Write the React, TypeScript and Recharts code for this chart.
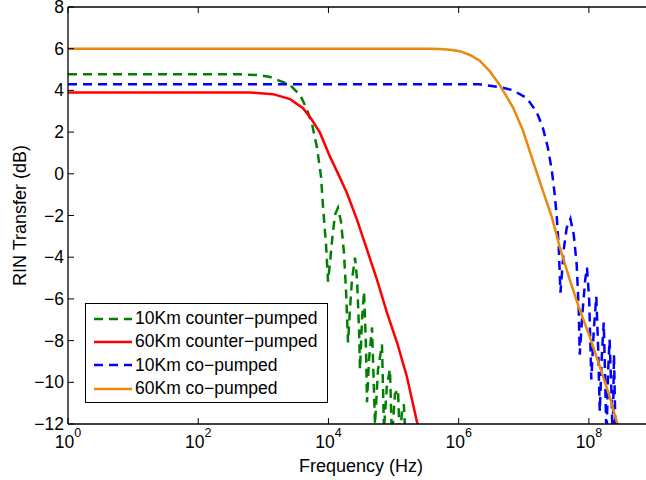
import React from "react";
import {
  LineChart,
  Line,
  XAxis,
  YAxis,
  Legend,
  ReferenceLine,
} from "recharts";

// frequencies in Hz, RIN transfer in dB
const counter10Freq = [
  1, 441, 893, 1270, 2010, 2580, 3080, 3670, 4070, 4690, 5600, 6680, 7700,
  8260, 9180, 9860, 10600, 11400, 12600, 14000, 15600, 17300, 18600, 20000,
  21400, 23000, 25600, 27500, 29500, 30500, 32800, 35200, 37800, 39100, 42000,
  46700, 51900, 57700, 66400, 71300, 79200, 88100, 94400, 105000, 117000,
  125000, 135000, 144000, 155000,
];
const counter10Rin = [
  4.77, 4.77, 4.73, 4.64, 4.4, 4.25, 4.01, 3.78, 3.49, 3.06, 2.39, 1.24, -0.15,
  -1.58, -3.4, -5.17, -4.22, -3.16, -1.97, -1.63, -2.3, -3.78, -5.56, -8.09,
  -6.51, -5.08, -4.02, -5.08, -7.47, -9.38, -6.99, -5.65, -8.43, -10.96, -8.9,
  -7.37, -12.01, -9.38, -8.19, -12.25, -10.11, -9.38, -12.73, -10.58, -10.34,
  -12.97, -11.3, -11.06, -13.2,
];

const counter60Freq = [
  1, 630, 1410, 2580, 4070, 5600, 7430, 10600, 14000, 19300, 27500, 39100,
  55600, 79200, 113000, 160000, 228000, 303000,
];
const counter60Rin = [
  3.9, 3.9, 3.82, 3.58, 3.15, 2.58, 1.96, 0.81, 0.02, -0.93, -2.21, -3.64,
  -5.08, -6.66, -8.09, -9.72, -11.87, -12.97,
];

const co10Freq = [
  1, 2.11e6, 4.29e6, 6.78e6, 1.11e7, 1.58e7, 1.95e7, 2.33e7, 2.69e7, 2.99e7,
  3.21e7, 3.44e7, 3.66e7, 4.11e7, 4.56e7, 5.2e7, 5.85e7, 6.5e7, 6.98e7,
  7.23e7, 8.04e7, 8.78e7, 9.35e7, 1.01e8, 1.09e8, 1.19e8, 1.3e8, 1.39e8,
  1.47e8, 1.57e8, 1.69e8, 1.78e8, 1.86e8, 1.98e8, 2.08e8, 2.24e8, 2.32e8,
  2.43e8, 2.58e8,
];
const co10Rin = [
  4.29, 4.29, 4.16, 4.01, 3.63, 2.96, 2.24, 1.29, 0.19, -1.01, -2.06, -3.5,
  -5.7, -3.64, -2.59, -2.16, -2.92, -4.36, -6.51, -8.67, -6.51, -5.08, -4.5,
  -6.03, -9.86, -7.47, -5.89, -8.43, -11.39, -8.9, -7.13, -9.86, -12.73, -9.38,
  -7.95, -10.82, -12.97, -8.67, -12.97,
];

const co60Freq = [
  1, 3.5e5, 5.2e5, 7.33e5, 1.04e6, 1.49e6, 2.11e6, 3.01e6, 4.29e6, 6.78e6,
  9.66e6, 1.37e7, 1.95e7, 2.69e7, 3.56e7, 5.08e7, 7.23e7, 1.03e8, 1.47e8,
  2.08e8, 2.67e8, 3.54e8,
];
const co60Rin = [
  6.0, 6.0, 5.98, 5.95, 5.88, 5.7, 5.42, 4.92, 4.25, 3.2, 2.1, 0.66, -0.78,
  -2.07, -3.5, -5.08, -6.52, -7.81, -9.25, -10.68, -11.88, -12.7,
];

const xTicks = [1, 1e2, 1e4, 1e6, 1e8];
const yTicks = [-12, -10, -8, -6, -4, -2, 0, 2, 4, 6, 8];

const toPoints = (f: number[], v: number[]) =>
  f.map((x, i) => ({ f: x, v: v[i] }));

const SERIES = [
  { name: "10Km counter\u2212pumped", color: "#008000", dash: "9 6", data: toPoints(counter10Freq, counter10Rin) },
  { name: "60Km counter\u2212pumped", color: "#ff0000", dash: undefined, data: toPoints(counter60Freq, counter60Rin) },
  { name: "10Km co\u2212pumped", color: "#0000ff", dash: "9 6", data: toPoints(co10Freq, co10Rin) },
  { name: "60Km co\u2212pumped", color: "#e8890c", dash: undefined, data: toPoints(co60Freq, co60Rin) },
];

const FONT = '"Liberation Sans", Arial, Helvetica, sans-serif';
const W = 720;
const H = 480;
const PLOT_LEFT = 68;
const PLOT_TOP = 7;
const PLOT_BOTTOM = 424;
const PLOT_RIGHT = 654;

function XTick(props: any) {
  const { x, payload } = props;
  const exp = Math.round(Math.log10(payload.value));
  return (
    <g>
      <line x1={x} x2={x} y1={PLOT_BOTTOM} y2={PLOT_BOTTOM - 6} stroke="#000" />
      <line x1={x} x2={x} y1={PLOT_TOP} y2={PLOT_TOP + 6} stroke="#000" />
      <text x={x} y={448} textAnchor="middle" fontSize={17.5} fontFamily={FONT} fill="#000">
        10
        <tspan dy={-11} fontSize={12.5}>
          {exp}
        </tspan>
      </text>
    </g>
  );
}

function YTick(props: any) {
  const { y, payload } = props;
  const v = payload.value as number;
  const label = v < 0 ? `\u2212${Math.abs(v)}` : `${v}`;
  return (
    <g>
      <line x1={PLOT_LEFT} x2={PLOT_LEFT + 6} y1={y} y2={y} stroke="#000" />
      <text x={64} y={y + 6} textAnchor="end" fontSize={17.5} fontFamily={FONT} fill="#000">
        {label}
      </text>
    </g>
  );
}

function LegendBox() {
  return (
    <div
      style={{
        width: 243,
        height: 100,
        boxSizing: "border-box",
        border: "1.3px solid #000",
        background: "#fff",
        paddingTop: 3,
        fontFamily: FONT,
        fontSize: 17.5,
        color: "#000",
      }}
    >
      {SERIES.map((s) => (
        <div key={s.name} style={{ display: "flex", alignItems: "center", height: 23.3 }}>
          <svg width={46} height={6} style={{ marginLeft: 7 }}>
            <line x1={1} x2={39} y1={3} y2={3} stroke={s.color} strokeWidth={2.5} strokeDasharray={s.dash} />
          </svg>
          <span style={{ marginLeft: -4, whiteSpace: "nowrap" }}>{s.name}</span>
        </div>
      ))}
    </div>
  );
}

export default function App() {
  return (
    <div
      style={{
        position: "absolute",
        left: 0,
        top: 0,
        width: 646,
        height: 480,
        overflow: "hidden",
        background: "#fff",
        fontFamily: FONT,
      }}
    >
      <LineChart
        width={W}
        height={H}
        margin={{ top: PLOT_TOP, right: W - PLOT_RIGHT, bottom: 0, left: 0 }}
      >
        <XAxis
          type="number"
          dataKey="f"
          scale="log"
          domain={[1, 1e9]}
          ticks={xTicks}
          interval={0}
          allowDataOverflow
          height={H - PLOT_BOTTOM}
          tickLine={false}
          tick={XTick}
          axisLine={{ stroke: "#000", strokeWidth: 1.3 }}
          label={() => (
            <text x={(PLOT_LEFT + PLOT_RIGHT) / 2} y={472} textAnchor="middle" fontSize={18} fontFamily={FONT} fill="#000">
              Frequency (Hz)
            </text>
          )}
        />
        <YAxis
          type="number"
          domain={[-12, 8]}
          ticks={yTicks}
          interval={0}
          allowDataOverflow
          width={PLOT_LEFT}
          tickLine={false}
          tick={YTick}
          axisLine={{ stroke: "#000", strokeWidth: 1.3 }}
          label={() => (
            <text
              x={20}
              y={(PLOT_TOP + PLOT_BOTTOM) / 2}
              transform={`rotate(-90 20 ${(PLOT_TOP + PLOT_BOTTOM) / 2})`}
              textAnchor="middle"
              dominantBaseline="central"
              fontSize={18}
              fontFamily={FONT}
              fill="#000"
            >
              RIN Transfer (dB)
            </text>
          )}
        />
        <ReferenceLine y={8} stroke="#000" strokeWidth={1.3} />
        {SERIES.map((s) => (
          <Line
            key={s.name}
            name={s.name}
            data={s.data}
            dataKey="v"
            type="linear"
            stroke={s.color}
            strokeWidth={2.5}
            strokeDasharray={s.dash}
            dot={false}
            activeDot={false}
            isAnimationActive={false}
          />
        ))}
        <Legend
          layout="vertical"
          align="center"
          verticalAlign="middle"
          content={() => <LegendBox />}
          wrapperStyle={{ left: 85, top: 303, width: 243, height: 100 }}
        />
      </LineChart>
    </div>
  );
}
